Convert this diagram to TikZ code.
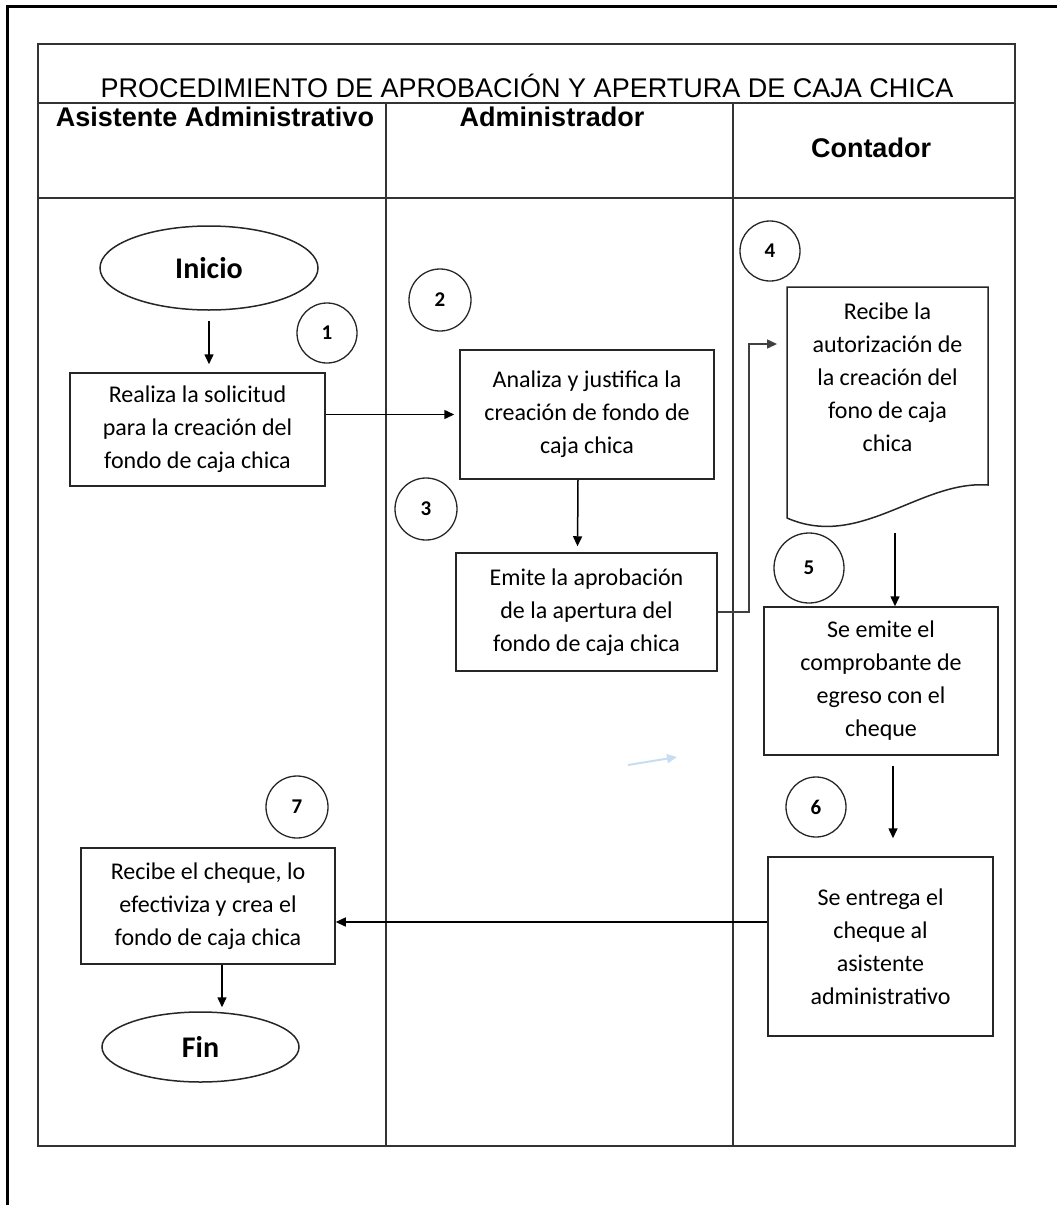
\documentclass[tikz,border=0pt]{standalone}
\usepackage{fontspec}
\setmainfont{Carlito}
\newfontfamily\headfont{Liberation Sans}
\usetikzlibrary{positioning,shapes.geometric,arrows.meta}
\definecolor{ghost}{RGB}{200,220,242}
\tikzset{
  stepbox/.style={draw=black!85, line width=1.5pt, align=center, inner sep=0pt,
    font=\fontsize{24}{33}\selectfont},
  terminal/.style={ellipse, draw=black!85, line width=1.5pt, inner sep=0pt,
    font=\fontsize{30}{36}\selectfont\bfseries},
  stepnum/.style={circle, draw=black!85, line width=1.3pt, inner sep=0pt,
    font=\fontsize{21}{25}\selectfont\bfseries},
  lane/.style={draw=black!80, line width=2pt},
  lanehead/.style={anchor=base, font=\headfont\bfseries\fontsize{27}{32}\selectfont},
  flow/.style={->, line width=1.5pt},
}

\begin{document}
\begin{tikzpicture}[x=1pt, y=-1pt, >={Triangle[length=10pt,width=9pt]}]
\useasboundingbox (0,0) rectangle (1057,1205);
% frame
\draw[line width=3pt] (7,1205) -- (7,6) -- (1057,6);
% swimlanes
\draw[lane] (38,44) rectangle (1015,1146);
\draw[lane] (38,103) -- (1015,103);
\draw[lane] (38,198) -- (1015,198);
\foreach \x in {386,733} {
\draw[lane] (\x,103) -- (\x,1146);
}
\node[anchor=base, font=\headfont\fontsize{27}{32}\selectfont] (title) at (527,97) {PROCEDIMIENTO DE APROBACIÓN Y APERTURA DE CAJA CHICA};
\node[lanehead] (asist) at (215,126) {Asistente Administrativo};
\node[lanehead] (admin) at (552,126) {Administrador};
\node[lanehead] (conta) at (871,157) {Contador};

% steps
\node[terminal, minimum width=218, minimum height=84] (ini) at (209,268) {Inicio};
\node[stepbox, minimum width=255, minimum height=113] (b1) at (197.5,429.5) {Realiza la solicitud\\para la creación del\\fondo de caja chica};
\node[stepbox, minimum width=254, minimum height=129] (b2) at (587,414.5) {Analiza y justifica la\\creación de fondo de\\caja chica};
\node[stepbox, minimum width=261, minimum height=118] (b3) at (586.5,612) {Emite la aprobación\\de la apertura del\\fondo de caja chica};
\node[stepbox, draw=none, minimum width=201, minimum height=190] (d4) at (887.5,377) {Recibe la\\autorización de\\la creación del\\fono de caja\\chica};
\draw[draw=black!85, line width=1.5pt] (787,287) -- (988,287) -- (988,485)
  .. controls (920,480) and (860,550) .. (787,518) -- cycle;
\node[stepbox, minimum width=234, minimum height=148] (b5) at (881,681) {Se emite el\\comprobante de\\egreso con el\\cheque};
\node[stepbox, minimum width=225, minimum height=179] (b6) at (880.5,946.5) {Se entrega el\\cheque al\\asistente\\administrativo};
\node[stepbox, minimum width=254, minimum height=116] (b7) at (208,906) {Recibe el cheque, lo\\efectiviza y crea el\\fondo de caja chica};
\node[terminal, minimum width=197, minimum height=70] (fin) at (200.5,1047) {Fin};

% step numbers
\foreach \n/\x/\y/\d in {1/327/333/60, 2/440/300/62, 3/426/509/62, 4/770/251/60,
  5/809/568/70, 6/816/807/60, 7/297/807/62} {
\node[stepnum, minimum size=\d] (n\n) at (\x,\y) {\n};
}

% connectors
\coordinate (d4in) at (777,344);
\coordinate (d4out) at (895,533);
\draw[flow, shorten <=10pt, shorten >=8pt] (ini.south) -- (ini.south |- b1.north);
\draw[flow, shorten >=5pt] (b1.east |- b2.west) -- (b2.west);
\draw[flow, shorten >=6pt] ([xshift=-9pt]b2.south) -- ([xshift=-9pt]b3.north);
\draw[flow, draw=black!75] (b3.east) -- ++(31,0) |- (d4in);
\draw[flow] (d4out) -- (d4out |- b5.north);
\draw[flow, shorten <=10pt, shorten >=18pt] ([xshift=12pt]b5.south) -- ([xshift=12pt]b5.south |- b6.north);
\draw[flow] ([yshift=24.5pt]b6.west) -- ([yshift=24.5pt]b6.west -| b7.east);
\draw[flow, shorten >=4pt] ([xshift=14pt]b7.south) -- ([xshift=14pt]b7.south |- fin.north);

% stray mark
\coordinate (ghostA) at (628,765);
\coordinate (ghostB) at (677,757);
\draw[->, draw=ghost, line width=2pt] (ghostA) -- (ghostB);
\end{tikzpicture}
\end{document}
